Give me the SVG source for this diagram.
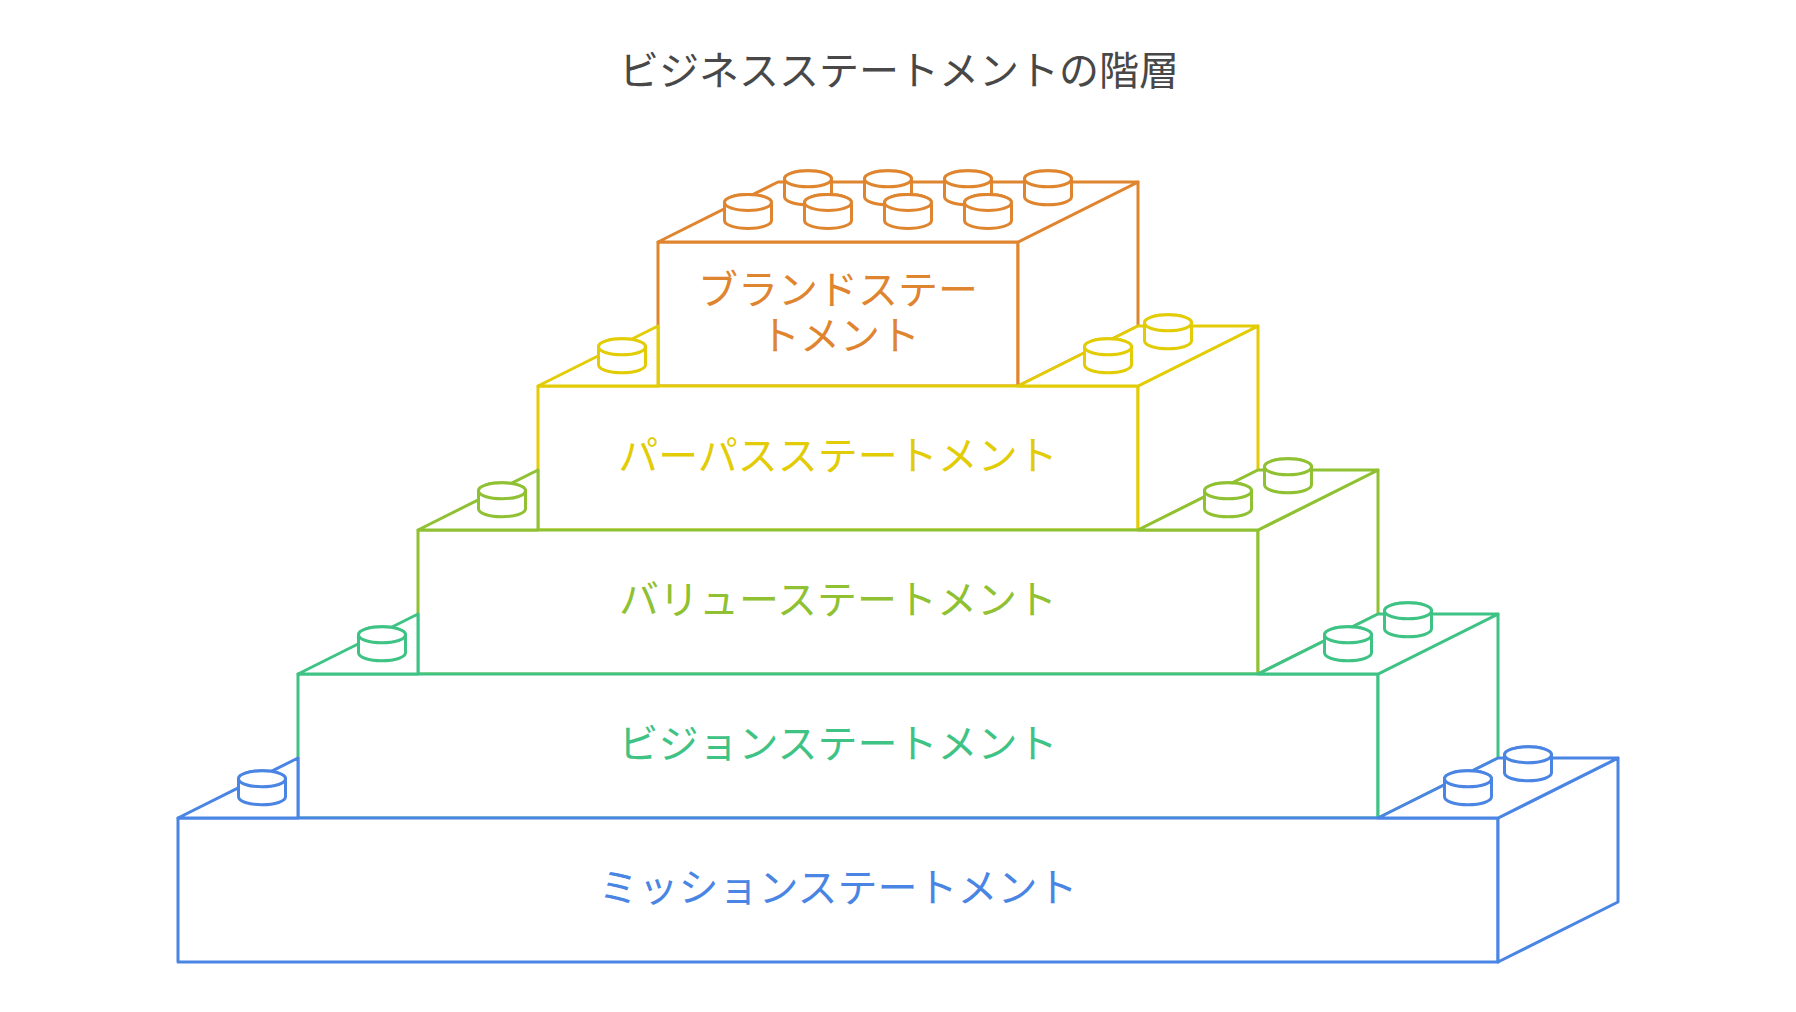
<svg xmlns="http://www.w3.org/2000/svg" width="1796" height="1012" viewBox="0 0 1796 1012">
<style>
.f{fill:#fff;stroke-width:3;stroke-linejoin:round;stroke-linecap:round}
.o{stroke:#e0852f}.y{stroke:#e2cc06}.l{stroke:#8fc132}.g{stroke:#3ec385}.b{stroke:#4a85e3}
.t{font-family:"Noto Sans CJK JP","Noto Sans",sans-serif;font-size:40px;text-anchor:middle}
</style>
<defs>
<g id="stud">
<path d="M-23.5,0 V18 A23.5,8 0 0 0 23.5,18 V0 A23.5,8 0 0 0 -23.5,0 Z"/>
<ellipse cx="0" cy="0" rx="23.5" ry="8"/>
</g>
</defs>
<rect width="1796" height="1012" fill="#fff"/>
<text class="t" x="899" y="85" fill="#484848">ビジネスステートメントの階層</text>

<g id="brand" class="f o">
<rect x="658" y="242" width="360" height="144"/>
<polygon points="1018,242 1138,182 1138,326 1018,386"/>
<polygon points="658,242 778,182 1138,182 1018,242"/>
<use href="#stud" x="808" y="178.8"/>
<use href="#stud" x="888" y="178.8"/>
<use href="#stud" x="968" y="178.8"/>
<use href="#stud" x="1048" y="178.8"/>
<use href="#stud" x="748" y="202.5"/>
<use href="#stud" x="828" y="202.5"/>
<use href="#stud" x="908" y="202.5"/>
<use href="#stud" x="988" y="202.5"/>
<text class="t" x="838" y="303.5" fill="#e0852f" stroke="none">ブランドステー</text>
<text class="t" x="840" y="349.5" fill="#e0852f" stroke="none">トメント</text>
</g>

<g id="purpose" class="f y">
<rect x="538" y="386" width="600" height="144"/>
<polygon points="1138,386 1258,326 1258,470 1138,530"/>
<polygon points="538,386 658,326 658,386"/>
<polygon points="1018,386 1138,326 1258,326 1138,386"/>
<use href="#stud" x="622" y="346.8"/>
<use href="#stud" x="1168" y="322.8"/>
<use href="#stud" x="1108" y="346.8"/>
<text class="t" x="838" y="470" fill="#e2cc06" stroke="none">パーパスステートメント</text>
</g>

<g id="value" class="f l">
<rect x="418" y="530" width="840" height="144"/>
<polygon points="1258,530 1378,470 1378,614 1258,674"/>
<polygon points="418,530 538,470 538,530"/>
<polygon points="1138,530 1258,470 1378,470 1258,530"/>
<use href="#stud" x="502" y="490.8"/>
<use href="#stud" x="1288" y="466.8"/>
<use href="#stud" x="1228" y="490.8"/>
<text class="t" x="838" y="614" fill="#8fc132" stroke="none">バリューステートメント</text>
</g>

<g id="vision" class="f g">
<rect x="298" y="674" width="1080" height="144"/>
<polygon points="1378,674 1498,614 1498,758 1378,818"/>
<polygon points="298,674 418,614 418,674"/>
<polygon points="1258,674 1378,614 1498,614 1378,674"/>
<use href="#stud" x="382" y="634.8"/>
<use href="#stud" x="1408" y="610.8"/>
<use href="#stud" x="1348" y="634.8"/>
<text class="t" x="838" y="758" fill="#3ec385" stroke="none">ビジョンステートメント</text>
</g>

<g id="mission" class="f b">
<rect x="178" y="818" width="1320" height="144"/>
<polygon points="1498,818 1618,758 1618,902 1498,962"/>
<polygon points="178,818 298,758 298,818"/>
<polygon points="1378,818 1498,758 1618,758 1498,818"/>
<use href="#stud" x="262" y="778.8"/>
<use href="#stud" x="1528" y="754.8"/>
<use href="#stud" x="1468" y="778.8"/>
<text class="t" x="838" y="902" fill="#4a85e3" stroke="none">ミッションステートメント</text>
</g>

<g id="connectors"></g>
</svg>
